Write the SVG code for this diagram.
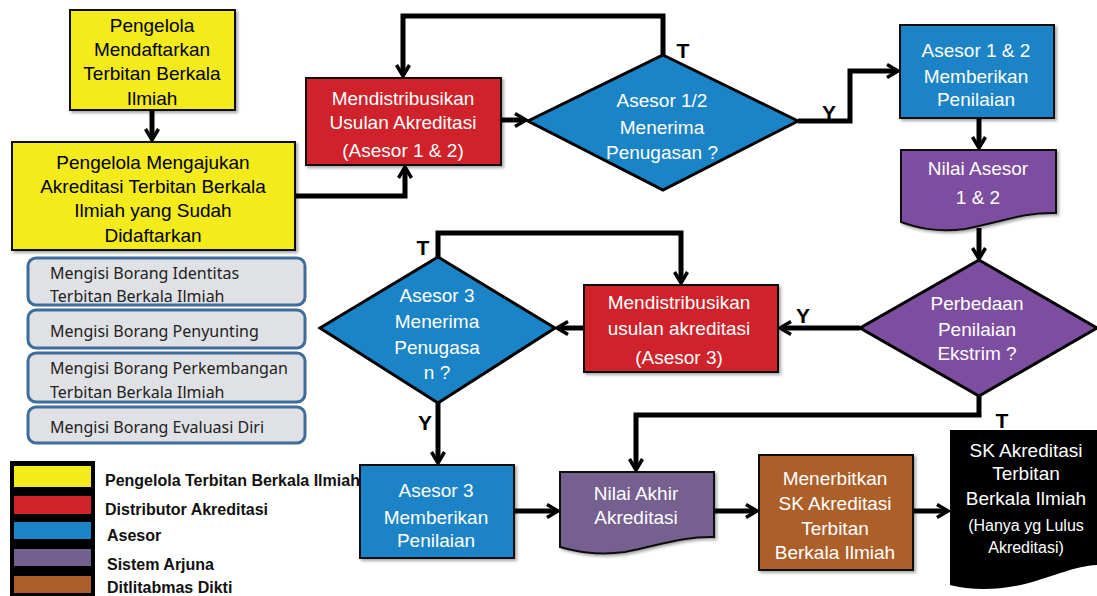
<svg xmlns="http://www.w3.org/2000/svg" width="1097" height="596" viewBox="0 0 1097 596">
<defs>
<style>
.t{font-family:"Liberation Sans",Arial,sans-serif;font-size:19px;text-anchor:middle}
.w{fill:#fff}
.k{fill:#000}
.lbl{font-family:"Liberation Sans",Arial,sans-serif;font-size:21px;font-weight:bold;text-anchor:middle;fill:#000}
.g{font-family:"Noto Sans","Open Sans",sans-serif;font-size:16px;fill:#222}
.leg{font-family:"Liberation Sans",Arial,sans-serif;font-size:16px;font-weight:bold;fill:#111}
.box{stroke:#111;stroke-width:2}
.dia{stroke:#000;stroke-width:3;stroke-linejoin:miter}
.gray{fill:#dfe1e5;stroke:#3f6d9b;stroke-width:3}
.c{fill:none;stroke:#000;stroke-width:5;stroke-linejoin:miter}
</style>
<marker id="a" viewBox="0 0 16 16" markerWidth="16" markerHeight="16" refX="12" refY="8" orient="auto" markerUnits="userSpaceOnUse">
<path d="M2,1.5 L13,8 L2,14.5" fill="none" stroke="#000" stroke-width="3.5"/>
</marker>
<filter id="sh" x="-10%" y="-10%" width="130%" height="130%">
<feDropShadow dx="2" dy="2" stdDeviation="1.5" flood-color="#000" flood-opacity="0.35"/>
</filter>
</defs>
<rect width="1097" height="596" fill="#fff"/>

<g id="connectors">
<path class="c" d="M152,110 V139" marker-end="url(#a)"/>
<path class="c" d="M295,196 H405 V168" marker-end="url(#a)"/>
<path class="c" d="M501,120 H525" marker-end="url(#a)"/>
<path class="c" d="M663,55 V16 H403 V75" marker-end="url(#a)"/>
<path class="c" d="M798,121 H850 V71 H897" marker-end="url(#a)"/>
<path class="c" d="M979,118 V147" marker-end="url(#a)"/>
<path class="c" d="M979,228 V258" marker-end="url(#a)"/>
<path class="c" d="M860,328 H781" marker-end="url(#a)"/>
<path class="c" d="M584,328 H558" marker-end="url(#a)"/>
<path class="c" d="M438,257 V233 H681 V282" marker-end="url(#a)"/>
<path class="c" d="M438,403 V462" marker-end="url(#a)"/>
<path class="c" d="M514,511 H557" marker-end="url(#a)"/>
<path class="c" d="M979,396 V415 H636 V469" marker-end="url(#a)"/>
<path class="c" d="M714,511 H756" marker-end="url(#a)"/>
<path class="c" d="M913,511 H947" marker-end="url(#a)"/>
</g>

<g id="n-daftar">
<rect class="box" x="70" y="10" width="165" height="100" fill="#f3eb1b" filter="url(#sh)"/>
<text class="t k" x="152" y="32">Pengelola</text>
<text class="t k" x="152" y="56">Mendaftarkan</text>
<text class="t k" x="152" y="80">Terbitan Berkala</text>
<text class="t k" x="152" y="105">Ilmiah</text>
</g>

<g id="n-ajukan">
<rect class="box" x="12" y="142" width="283" height="108" fill="#f3eb1b" filter="url(#sh)"/>
<text class="t k" x="153" y="169">Pengelola Mengajukan</text>
<text class="t k" x="153" y="193">Akreditasi Terbitan Berkala</text>
<text class="t k" x="153" y="217">Ilmiah yang Sudah</text>
<text class="t k" x="153" y="242">Didaftarkan</text>
</g>

<g id="n-borang">
<rect class="gray" x="28" y="258" width="277" height="47" rx="8"/>
<text class="g" x="50" y="279">Mengisi Borang Identitas</text>
<text class="g" x="50" y="302">Terbitan Berkala Ilmiah</text>
<rect class="gray" x="28" y="310" width="277" height="38" rx="8"/>
<text class="g" x="50" y="337">Mengisi Borang Penyunting</text>
<rect class="gray" x="28" y="353" width="277" height="49" rx="8"/>
<text class="g" x="50" y="374">Mengisi Borang Perkembangan</text>
<text class="g" x="50" y="398">Terbitan Berkala Ilmiah</text>
<rect class="gray" x="28" y="407" width="277" height="36" rx="8"/>
<text class="g" x="50" y="433">Mengisi Borang Evaluasi Diri</text>
</g>

<g id="n-distribusi12">
<rect class="box" x="306" y="78" width="195" height="87" fill="#d0232a" filter="url(#sh)"/>
<text class="t w" x="403" y="105">Mendistribusikan</text>
<text class="t w" x="403" y="129">Usulan Akreditasi</text>
<text class="t w" x="403" y="157">(Asesor 1 &amp; 2)</text>
</g>

<g id="n-terima12">
<polygon class="dia" points="663,55 798,121 663,190 528,121" fill="#1a84c6"/>
<text class="t w" x="662" y="107">Asesor 1/2</text>
<text class="t w" x="662" y="134">Menerima</text>
<text class="t w" x="662" y="159">Penugasan ?</text>
</g>

<g id="n-nilai12">
<rect class="box" x="900" y="25" width="154" height="93" fill="#1a84c6" filter="url(#sh)"/>
<text class="t w" x="976" y="57">Asesor 1 &amp; 2</text>
<text class="t w" x="976" y="83">Memberikan</text>
<text class="t w" x="976" y="106">Penilaian</text>
</g>

<g id="n-nilaiasesor">
<path class="box" d="M901,150 H1056 V213 C1025,212 1000,222 965,229 C935,233 915,227 901,222 Z" fill="#7d4e9f" stroke-width="3" filter="url(#sh)"/>
<text class="t w" x="978" y="175">Nilai Asesor</text>
<text class="t w" x="978" y="204">1 &amp; 2</text>
</g>

<g id="n-ekstrim">
<polygon class="dia" points="979,260 1097,328 979,396 860,328" fill="#7d4e9f"/>
<text class="t w" x="977" y="310">Perbedaan</text>
<text class="t w" x="977" y="336">Penilaian</text>
<text class="t w" x="977" y="360">Ekstrim ?</text>
</g>

<g id="n-distribusi3">
<rect class="box" x="584" y="285" width="194" height="87" fill="#d0232a" filter="url(#sh)"/>
<text class="t w" x="679" y="309">Mendistribusikan</text>
<text class="t w" x="679" y="335">usulan akreditasi</text>
<text class="t w" x="679" y="364">(Asesor 3)</text>
</g>

<g id="n-terima3">
<polygon class="dia" points="438,257 555,328 438,403 320,328" fill="#1a84c6"/>
<text class="t w" x="437" y="302">Asesor 3</text>
<text class="t w" x="437" y="328">Menerima</text>
<text class="t w" x="437" y="354">Penugasa</text>
<text class="t w" x="437" y="379">n ?</text>
</g>

<g id="n-nilai3">
<rect class="box" x="360" y="465" width="154" height="93" fill="#1a84c6" filter="url(#sh)"/>
<text class="t w" x="436" y="497">Asesor 3</text>
<text class="t w" x="436" y="524">Memberikan</text>
<text class="t w" x="436" y="547">Penilaian</text>
</g>

<g id="n-nilaiakhir">
<path class="box" d="M560,472 H714 V537 C685,536 660,545 625,552 C595,556 575,551 560,547 Z" fill="#74608f" stroke-width="3" filter="url(#sh)"/>
<text class="t w" x="636" y="500">Nilai Akhir</text>
<text class="t w" x="636" y="524">Akreditasi</text>
</g>

<g id="n-terbit">
<rect class="box" x="759" y="455" width="154" height="115" fill="#ad5f2a" filter="url(#sh)"/>
<text class="t w" x="835" y="485">Menerbitkan</text>
<text class="t w" x="835" y="510">SK Akreditasi</text>
<text class="t w" x="835" y="535">Terbitan</text>
<text class="t w" x="835" y="559">Berkala Ilmiah</text>
</g>

<g id="n-sk">
<path d="M950,430 H1097 V565 C1075,566 1055,576 1025,584 C995,591 970,590 950,585 Z" fill="#000"/>
<text class="t w" x="1026" y="457">SK Akreditasi</text>
<text class="t w" x="1026" y="480">Terbitan</text>
<text class="t w" x="1026" y="505">Berkala Ilmiah</text>
<text class="t w" x="1026" y="531" style="font-size:16px">(Hanya yg Lulus</text>
<text class="t w" x="1026" y="553" style="font-size:16px">Akreditasi)</text>
</g>

<g id="labels">
<text class="lbl" x="683" y="58">T</text>
<text class="lbl" x="829" y="120">Y</text>
<text class="lbl" x="803" y="323">Y</text>
<text class="lbl" x="423" y="255">T</text>
<text class="lbl" x="425" y="430">Y</text>
<text class="lbl" x="1002" y="428">T</text>
</g>

<g id="legend">
<rect x="10" y="461" width="85" height="135" fill="#000"/>
<rect x="14" y="466" width="77" height="21" fill="#f3eb1b"/>
<rect x="14" y="496" width="77" height="18" fill="#d0232a"/>
<rect x="14" y="522" width="77" height="17" fill="#1a84c6"/>
<rect x="14" y="549" width="77" height="17" fill="#74608f"/>
<rect x="14" y="576" width="77" height="17" fill="#ad5f2a"/>
<text class="leg" x="105" y="486">Pengelola Terbitan Berkala Ilmiah</text>
<text class="leg" x="105" y="515">Distributor Akreditasi</text>
<text class="leg" x="107" y="541">Asesor</text>
<text class="leg" x="107" y="570">Sistem Arjuna</text>
<text class="leg" x="107" y="593">Ditlitabmas Dikti</text>
</g>
</svg>
